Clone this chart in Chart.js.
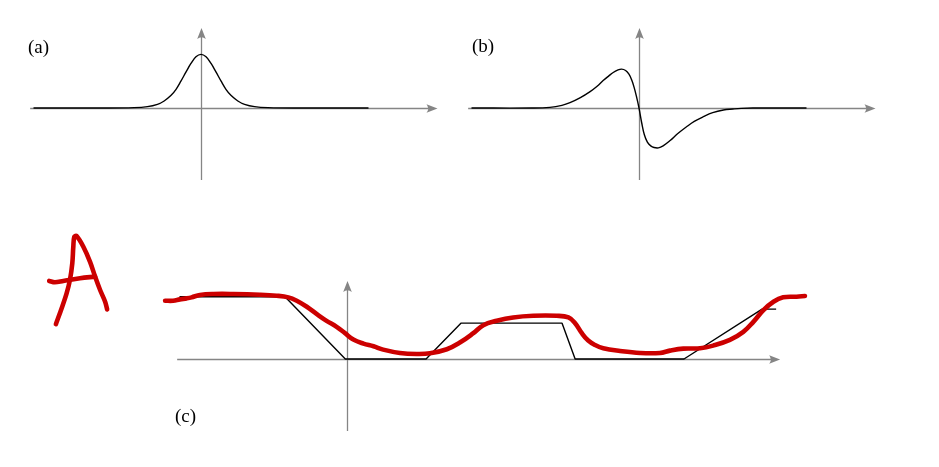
<!DOCTYPE html>
<html><head><meta charset="utf-8">
<script src="https://cdn.jsdelivr.net/npm/chart.js@4.4.1/dist/chart.umd.min.js"></script>
<style>
html,body{margin:0;padding:0;background:#fff;}
#wrap{position:relative;width:939px;height:467px;overflow:hidden;}
#c{position:absolute;left:0;top:0;}
.lbl{position:absolute;font-family:"Liberation Serif","DejaVu Serif",serif;font-size:19px;line-height:19px;color:#000;white-space:nowrap;}
</style></head><body>
<div id="wrap">
<canvas id="c" width="939" height="467"></canvas>
<span class="lbl" id="lblA" style="left:28px;top:37px"></span>
<span class="lbl" id="lblB" style="left:472px;top:36px"></span>
<span class="lbl" id="lblC" style="left:175px;top:406px"></span>
</div>
<script>
// ---- data ----
const panelLabels = ['(a)', '(b)', '(c)'];

// (a) single hump
const solitonX = [-5,-3,-2,-1.6,-1.3,-1.1,-0.9,-0.75,-0.6,-0.45,-0.3,-0.15,0,0.15,0.3,0.45,0.6,0.75,0.9,1.1,1.3,1.6,2,3,5];
const solitonY = [0,0,0.01,0.04,0.11,0.21,0.37,0.55,0.80,1.07,1.33,1.53,1.6,1.53,1.33,1.07,0.80,0.55,0.37,0.21,0.11,0.04,0.01,0,0];

// (b) up-down dipole
const dipoleX = [-5,-3.2,-2.66,-2.3,-2.06,-1.75,-1.46,-1.25,-1.07,-0.9,-0.77,-0.64,-0.52,-0.40,-0.30,-0.22,-0.15,-0.08,0,0.08,0.16,0.25,0.35,0.45,0.58,0.72,0.93,1.15,1.42,1.65,1.92,2.2,2.52,2.8,3.05,3.4,5];
const dipoleY = [0,0,0.02,0.08,0.16,0.31,0.49,0.65,0.82,0.96,1.06,1.13,1.16,1.12,1.01,0.84,0.63,0.36,0,-0.44,-0.80,-1.02,-1.13,-1.18,-1.19,-1.13,-0.97,-0.77,-0.56,-0.40,-0.26,-0.14,-0.06,-0.03,-0.01,0,0];

// (c) piecewise-linear profile
const profileX = [-5,-1.85,-0.05,2.36,3.40,6.42,6.81,10.06,12.39,12.81];
const profileY = [1.86,1.86,0,0,1.07,1.07,0,0,1.49,1.49];

// (c) red hand-drawn sketch
const sketchX = [-5.43,-5.19,-4.99,-4.79,-4.64,-4.39,-3.99,-3.39,-2.60,-2.10,-1.75,-1.50,-1.20,-0.90,-0.61,-0.31,-0.06,0.19,0.49,0.79,1.08,1.58,2.08,2.48,2.98,3.37,3.77,4.07,4.47,4.96,5.56,6.26,6.61,6.81,7.01,7.20,7.40,7.65,8.15,8.75,9.34,9.64,10.04,10.54,10.93,11.43,11.83,12.13,12.43,12.73,13.02,13.42,13.67];
const sketchY = [1.74,1.74,1.78,1.81,1.84,1.91,1.94,1.94,1.92,1.89,1.84,1.74,1.56,1.34,1.14,0.96,0.77,0.58,0.46,0.38,0.28,0.18,0.15,0.17,0.29,0.49,0.77,1.01,1.14,1.24,1.29,1.29,1.24,1.07,0.77,0.55,0.42,0.32,0.24,0.18,0.18,0.25,0.31,0.32,0.40,0.57,0.81,1.11,1.46,1.71,1.84,1.86,1.88];

// red letter "A"
const letterLegsX = [-8.69,-8.52,-8.37,-8.27,-8.20,-8.17,-8.14,-8.07,-7.87,-7.67,-7.52,-7.37,-7.22,-7.16];
const letterLegsY = [1.04,1.51,1.96,2.36,2.86,3.35,3.65,3.67,3.35,2.90,2.46,2.06,1.71,1.48];
const letterBarX = [-8.89,-8.72,-8.47,-7.97,-7.52];
const letterBarY = [2.33,2.29,2.33,2.41,2.46];

// ---- layout helpers ----
const W = 939, H = 467, UNIT = 33.5;
function xScale(originPx){ return {type:'linear', display:false, min:-originPx/UNIT, max:(W-originPx)/UNIT}; }
function yScale(originPx){ return {type:'linear', display:false, min:-(H-originPx)/UNIT, max:originPx/UNIT}; }
const pts = (xs, ys) => xs.map((x, i) => ({x, y: ys[i]}));

['lblA','lblB','lblC'].forEach((id, i) => { document.getElementById(id).textContent = panelLabels[i]; });

const AXIS = '#858585';
function arrowLine(ctx, x1, y1, x2, y2){
  const L = 11, HW = 4.3;
  const a = Math.atan2(y2 - y1, x2 - x1), c = Math.cos(a), s = Math.sin(a);
  ctx.beginPath();
  ctx.moveTo(x1, y1);
  ctx.lineTo(x2 - c * L * 0.8, y2 - s * L * 0.8);
  ctx.stroke();
  ctx.beginPath();
  ctx.moveTo(x2, y2);
  ctx.lineTo(x2 - c * L - s * HW, y2 - s * L + c * HW);
  ctx.quadraticCurveTo(x2 - c * L * 0.7, y2 - s * L * 0.7, x2 - c * L + s * HW, y2 - s * L - c * HW);
  ctx.closePath();
  ctx.fill();
}
const arrowAxes = {
  id: 'arrowAxes',
  beforeDatasetsDraw(chart, args, opts){
    const ctx = chart.ctx;
    ctx.save();
    ctx.strokeStyle = AXIS; ctx.fillStyle = AXIS; ctx.lineWidth = 1.3;
    opts.panels.forEach(p => {
      const xs = chart.scales[p.x], ys = chart.scales[p.y];
      const x0 = Math.round(xs.getPixelForValue(0)) + 0.5, y0 = Math.round(ys.getPixelForValue(0)) + 0.5;
      arrowLine(ctx, xs.getPixelForValue(p.xFrom), y0, xs.getPixelForValue(p.xTo), y0);
      arrowLine(ctx, x0, ys.getPixelForValue(p.yFrom), x0, ys.getPixelForValue(p.yTo));
    });
    ctx.restore();
  }
};

const RED = '#cc0000';
const redLine = {borderColor: RED, borderWidth: 4.6, borderCapStyle: 'round', borderJoinStyle: 'round', pointRadius: 0, showLine: true, fill: false};
const blackLine = {borderColor: '#000', borderWidth: 1.4, borderJoinStyle: 'round', pointRadius: 0, showLine: true, fill: false};

new Chart(document.getElementById('c'), {
  type: 'scatter',
  data: {
    datasets: [
      Object.assign({label: 'sketch', data: pts(sketchX, sketchY), xAxisID: 'xc', yAxisID: 'yc', tension: 0.4}, redLine),
      Object.assign({label: 'A legs', data: pts(letterLegsX, letterLegsY), xAxisID: 'xc', yAxisID: 'yc', tension: 0.35}, redLine),
      Object.assign({label: 'A bar', data: pts(letterBarX, letterBarY), xAxisID: 'xc', yAxisID: 'yc', tension: 0.35}, redLine),
      Object.assign({label: 'profile', data: pts(profileX, profileY), xAxisID: 'xc', yAxisID: 'yc', tension: 0}, blackLine),
      Object.assign({label: 'hump', data: pts(solitonX, solitonY), xAxisID: 'xa', yAxisID: 'yab', tension: 0.4}, blackLine),
      Object.assign({label: 'dipole', data: pts(dipoleX, dipoleY), xAxisID: 'xb', yAxisID: 'yab', tension: 0.4}, blackLine)
    ]
  },
  options: {
    responsive: false,
    animation: false,
    events: [],
    layout: {padding: 0},
    scales: {
      xa: xScale(201), xb: xScale(639), xc: xScale(347),
      yab: yScale(108), yc: yScale(359)
    },
    plugins: {
      legend: {display: false},
      tooltip: {enabled: false},
      arrowAxes: {panels: [
        {x: 'xa', y: 'yab', xFrom: -5.1, xTo: 7.06, yFrom: -2.15, yTo: 2.39},
        {x: 'xb', y: 'yab', xFrom: -5.1, xTo: 7.06, yFrom: -2.15, yTo: 2.39},
        {x: 'xc', y: 'yc', xFrom: -5.07, xTo: 12.93, yFrom: -2.15, yTo: 2.33}
      ]}
    },
    elements: {line: {clip: false}}
  },
  plugins: [arrowAxes]
});
</script>
</body></html>
